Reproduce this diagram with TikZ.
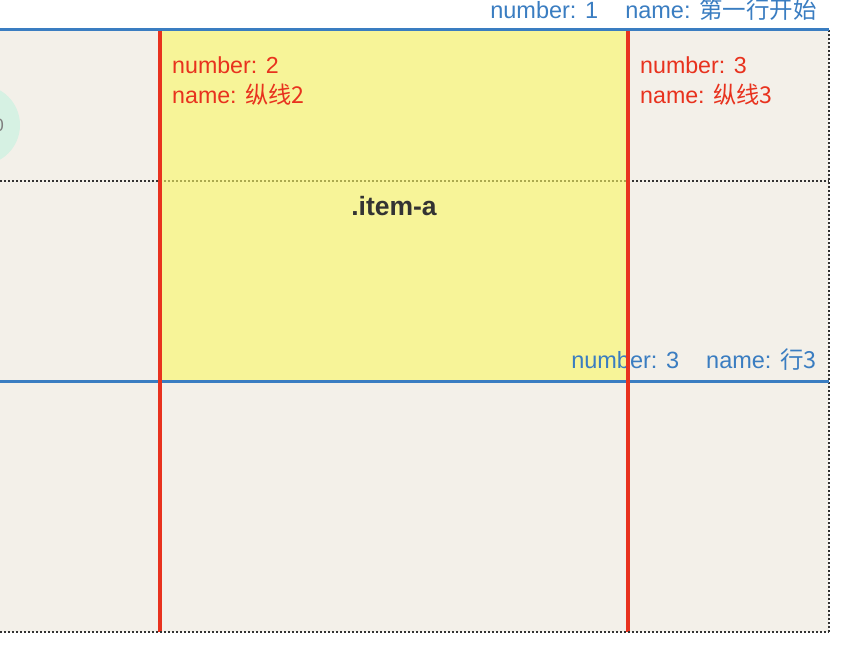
\documentclass[tikz,border=0pt]{standalone}
\usepackage{fontspec}
\setmainfont{Liberation Sans}
\newfontfamily\zhfont{Noto Sans CJK SC}
\newcommand{\zh}[1]{{\zhfont #1}}
\usetikzlibrary{positioning}
\definecolor{paperfill}{RGB}{243,240,233}
\definecolor{itemfill}{RGB}{251,248,98}
\definecolor{rowblue}{RGB}{58,125,193}
\definecolor{colred}{RGB}{232,50,30}
\definecolor{mintfill}{RGB}{214,241,227}
\definecolor{dotgrey}{RGB}{51,51,51}

\begin{document}
\begin{tikzpicture}[
      x=1pt, y=-1pt,
      rowline/.style={draw=rowblue, line width=3pt},
      colline/.style={draw=colred, line width=3.5pt},
      dotline/.style={draw=dotgrey, line width=1.6pt, dash pattern=on 2pt off 2pt},
      rowlab/.style={text=rowblue, font=\fontsize{23.5}{28}\selectfont,
                     inner sep=0pt, anchor=base east},
      collab/.style={text=colred, font=\fontsize{23.2}{28}\selectfont,
                     inner sep=0pt, anchor=base west}
    ]
    \useasboundingbox (0,0) rectangle (856,652);

    % paper and the stray badge at the left edge
    \fill[paperfill] (0,30) rectangle (829,632);
    \fill[mintfill] (-20,125) circle[radius=40];
    \node[text=gray, font=\fontsize{18}{20}\selectfont, inner sep=0pt,
          anchor=east] (badge) at (4,125) {0};

    % implicit grid lines
    \coordinate (midL) at (0,181);
    \coordinate (midR) at (829,181);
    \coordinate (topR) at (829,30);
    \coordinate (botL) at (0,632);
    \coordinate (botR) at (829,632);
    \draw[dotline] (midL) -- (midR);
    \draw[dotline] (topR) -- (botR);

    % the grid item
    \fill[itemfill, fill opacity=0.6] (160,31) rectangle (628,381);
    \node[font=\fontsize{26.5}{30}\selectfont\bfseries, text=dotgrey,
          inner sep=0pt, anchor=base] (item) at (394,216) {.item-a};

    % row lines
    \coordinate (row1L) at (0,30);
    \coordinate (row1R) at (829,30);
    \coordinate (row3L) at (0,381);
    \coordinate (row3R) at (829,381);
    \draw[rowline] (row1L) -- (row1R);
    \draw[rowline] (row3L) -- (row3R);
    \node[rowlab] (row1) at (817,18.5)
      {number: 1\hspace{27pt}name: \zh{第一行开始}};
    \node[rowlab] (row3) at (817,368)
      {number: 3\hspace{27pt}name: \zh{行3}};

    % column lines
    \coordinate (col2T) at (160,31);
    \coordinate (col2B) at (160,632);
    \coordinate (col3T) at (628,31);
    \coordinate (col3B) at (628,632);
    \draw[colline] (col2T) -- (col2B);
    \draw[colline] (col3T) -- (col3B);
    \node[collab] (col2num) at (172,74) {number: 2};
    \node[collab] (col2name) at (172,104) {name: \zh{纵线2}};
    \node[collab] (col3num) at (640,74) {number: 3};
    \node[collab] (col3name) at (640,104) {name: \zh{纵线3}};

    \draw[dotline] (botL) -- (botR);
  \end{tikzpicture}
\end{document}
